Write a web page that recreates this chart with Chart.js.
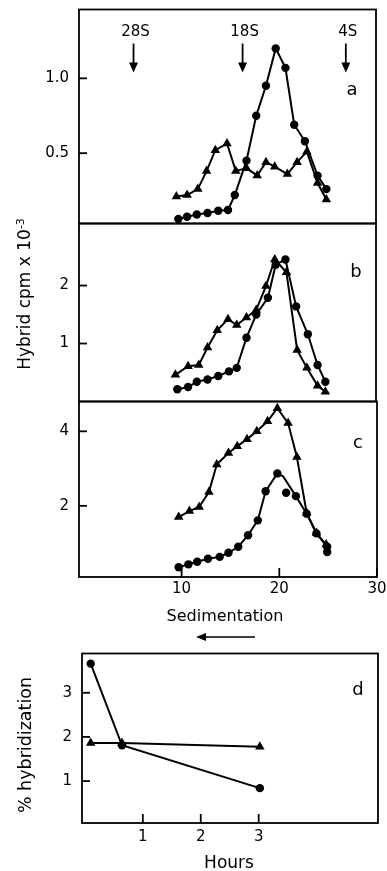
<!DOCTYPE html>
<html>
<head>
<meta charset="utf-8">
<script src="https://cdn.jsdelivr.net/npm/chart.js@4.4.0/dist/chart.umd.min.js"></script>
<style>
  body { margin: 0; background: #fff; width: 387px; height: 871px; position: relative; overflow: hidden; font-family: "DejaVu Sans", sans-serif; color: #000; }
  canvas { position: absolute; left: 0; }
  .lbl { position: absolute; white-space: nowrap; transform: translate(-50%, -50%); }
  .rot { transform: translate(-50%, -50%) rotate(-90deg); }
  sup { font-size: 11px; }
</style>
</head>
<body>
<canvas id="chartA" width="387" height="225" style="top:4px"></canvas>
<canvas id="chartB" width="387" height="189" style="top:218px"></canvas>
<canvas id="chartC" width="387" height="243" style="top:396px"></canvas>
<canvas id="chartD" width="387" height="221" style="top:648px"></canvas>

<div class="lbl rot" style="left:24px;top:294px;font-size:17px">Hybrid cpm x 10<sup>-3</sup></div>
<div class="lbl" style="left:225px;top:615px;font-size:16px">Sedimentation</div>
<svg style="position:absolute;left:195px;top:631px" width="64" height="12">
  <line x1="8" y1="6" x2="60" y2="6" stroke="#000" stroke-width="1.6"/>
  <path d="M1 6 L11 2 L11 10 Z" fill="#000"/>
</svg>
<div class="lbl rot" style="left:25px;top:745px;font-size:17.5px">% hybridization</div>
<div class="lbl" style="left:229px;top:862px;font-size:17px">Hours</div>

<script>
// sedimentation fraction positions and hybrid cpm x 10^-3, panel a
const aCircleX = [9.7, 10.6, 11.6, 12.7, 13.8, 14.8, 15.5, 16.7, 17.7, 18.7, 19.7, 20.7, 21.6, 22.7, 24.0, 24.9];
const aCircleY = [0.06, 0.075, 0.09, 0.10, 0.115, 0.12, 0.22, 0.45, 0.75, 0.95, 1.20, 1.07, 0.69, 0.58, 0.35, 0.26];
const aTriX = [9.5, 10.6, 11.7, 12.6, 13.5, 14.7, 15.6, 16.7, 17.8, 18.7, 19.6, 20.9, 21.9, 22.9, 24.0, 24.9];
const aTriY = [0.21, 0.22, 0.26, 0.38, 0.52, 0.565, 0.38, 0.40, 0.35, 0.44, 0.41, 0.36, 0.44, 0.51, 0.30, 0.19];

// panel b
const bCircleX = [9.6, 10.7, 11.6, 12.7, 13.8, 14.9, 15.7, 16.7, 17.7, 18.9, 19.7, 20.7, 21.8, 23.0, 24.0, 24.8];
const bCircleY = [0.21, 0.25, 0.34, 0.38, 0.44, 0.52, 0.58, 1.10, 1.50, 1.79, 2.36, 2.45, 1.64, 1.16, 0.63, 0.34];
const bTriX = [9.4, 10.7, 11.8, 12.7, 13.7, 14.8, 15.7, 16.7, 17.7, 18.7, 19.6, 20.8, 21.9, 22.9, 24.0, 24.8];
const bTriY = [0.46, 0.61, 0.63, 0.93, 1.23, 1.42, 1.32, 1.45, 1.58, 1.99, 2.45, 2.23, 0.89, 0.58, 0.27, 0.17];

// panel c (index 11 of the circle line is a bend with no marker)
const cTriX = [9.7, 10.8, 11.8, 12.8, 13.6, 14.8, 15.7, 16.7, 17.7, 18.8, 19.8, 20.9, 21.8, 22.8, 23.8, 24.8];
const cTriY = [1.70, 1.86, 1.97, 2.37, 3.11, 3.42, 3.60, 3.79, 4.0, 4.27, 4.62, 4.22, 3.31, 1.81, 1.27, 0.96];
const cCircleX = [9.7, 10.7, 11.6, 12.7, 13.9, 14.8, 15.8, 16.8, 17.8, 18.6, 19.8, 20.4, 21.7, 22.8, 23.8, 24.9, 24.9];
const cCircleY = [0.35, 0.43, 0.50, 0.58, 0.63, 0.74, 0.90, 1.21, 1.61, 2.39, 2.87, 2.79, 2.26, 1.79, 1.26, 0.90, 0.76];
const cStrayX = [20.7];
const cStrayY = [2.35];

// panel d: % hybridization vs hours
const dCircleX = [0.1, 0.64, 3.02];
const dCircleY = [3.66, 1.81, 0.84];
const dTriX = [0.1, 0.64, 3.02];
const dTriY = [1.86, 1.86, 1.78];

// sedimentation markers
const markerLabels = ['28S', '18S', '4S'];
const markerPos = [5.1, 16.3, 26.9];

// tick values
const aTicks = [0.5, 1.0];
const bTicks = [1, 2];
const cTicks = [2, 4];
const sedTicks = [10, 20, 30];
const dTicks = [1, 2, 3];
const hourTicks = [1, 2, 3];

const FONT = '"DejaVu Sans", sans-serif';

function pts(xs, ys) {
    return xs.map((x, i) => ({ x: x, y: ys[i] }));
}

function series(xs, ys, style, extra) {
    return Object.assign({
        data: pts(xs, ys),
        borderColor: '#000',
        backgroundColor: '#000',
        borderWidth: 2,
        pointStyle: style,
        pointRadius: style === 'triangle' ? 5.5 : 4.2,
        pointBorderWidth: 0,
        tension: 0,
        clip: false
    }, extra || {});
}

// box round the plot area, inward ticks, panel letter, and the 28S/18S/4S arrows
const framePlugin = {
    id: 'frame',
    afterDraw(chart, args, opts) {
        const ctx = chart.ctx;
        const a = chart.chartArea;
        ctx.save();
        ctx.strokeStyle = '#000';
        ctx.lineWidth = 1.8;
        ctx.strokeRect(a.left, a.top, a.right - a.left, a.bottom - a.top);

        // inward tick marks
        const ys = chart.scales.y;
        ys.ticks.forEach(t => {
            const py = ys.getPixelForValue(t.value);
            ctx.beginPath();
            ctx.moveTo(a.left, py);
            ctx.lineTo(a.left + 8, py);
            ctx.stroke();
        });
        const xs = chart.scales.x;
        if (xs.options.display) {
            xs.ticks.forEach(t => {
                const px = xs.getPixelForValue(t.value);
                ctx.beginPath();
                ctx.moveTo(px, a.bottom);
                ctx.lineTo(px, a.bottom - 9);
                ctx.stroke();
            });
        }

        ctx.fillStyle = '#000';
        ctx.textAlign = 'center';
        ctx.textBaseline = 'middle';
        if (opts.letter) {
            ctx.font = '18px ' + FONT;
            ctx.fillText(opts.letter, a.right - opts.letterDx, a.top + opts.letterDy);
        }
        if (opts.markers) {
            ctx.font = '15px ' + FONT;
            markerLabels.forEach((t, i) => {
                const px = xs.getPixelForValue(markerPos[i]);
                ctx.fillText(t, px + 2, a.top + 23);
                ctx.beginPath();
                ctx.moveTo(px, a.top + 34);
                ctx.lineTo(px, a.top + 55);
                ctx.stroke();
                ctx.beginPath();
                ctx.moveTo(px - 4.5, a.top + 53);
                ctx.lineTo(px + 4.5, a.top + 53);
                ctx.lineTo(px, a.top + 63);
                ctx.closePath();
                ctx.fill();
            });
        }
        ctx.restore();
    }
};

function fixedTicks(values) {
    return function (scale) {
        scale.ticks = values.map(v => ({ value: v }));
    };
}

function makePanel(id, datasets, cfg) {
    const ctx = document.getElementById(id).getContext('2d');
    return new Chart(ctx, {
        type: 'line',
        data: { datasets: datasets },
        options: {
            responsive: false,
            animation: false,
            layout: { padding: { left: 0, right: cfg.padRight, top: 2, bottom: cfg.padBottom } },
            plugins: {
                legend: { display: false },
                tooltip: { enabled: false },
                frame: cfg.frame
            },
            scales: {
                x: {
                    type: 'linear',
                    min: cfg.xMin,
                    max: cfg.xMax,
                    display: cfg.xShow,
                    afterBuildTicks: fixedTicks(cfg.xTicks),
                    afterFit(scale) {
                        scale.height = cfg.xHeight;
                        scale.paddingLeft = 0;
                        scale.paddingRight = 0;
                    },
                    border: { display: false },
                    grid: { display: false, drawTicks: false, tickLength: 0 },
                    ticks: { color: '#000', font: { family: FONT, size: 15 }, padding: cfg.xPad, maxRotation: 0, autoSkip: false }
                },
                y: {
                    type: 'linear',
                    min: cfg.yMin,
                    max: cfg.yMax,
                    afterBuildTicks: fixedTicks(cfg.yTicks),
                    afterFit(scale) {
                        scale.width = cfg.yWidth;
                        scale.paddingTop = 0;
                        scale.paddingBottom = 0;
                    },
                    border: { display: false },
                    grid: { display: false, drawTicks: false, tickLength: 0 },
                    ticks: {
                        color: '#000',
                        font: { family: FONT, size: 15 },
                        padding: 10,
                        callback: cfg.yFormat
                    }
                }
            }
        },
        plugins: [framePlugin]
    });
}

document.addEventListener('DOMContentLoaded', function () {
    try {
        makePanel('chartA', [
            series(aCircleX, aCircleY, 'circle'),
            series(aTriX, aTriY, 'triangle')
        ], {
            xMin: -0.5, xMax: 30, xShow: false, xTicks: sedTicks, xHeight: 0, xPad: 0,
            yMin: 0.03, yMax: 1.46, yTicks: aTicks, yWidth: 79,
            yFormat: v => v.toFixed(1),
            padRight: 11, padBottom: 2,
            frame: { letter: 'a', letterDx: 24, letterDy: 81, markers: true }
        });

        makePanel('chartB', [
            series(bCircleX, bCircleY, 'circle'),
            series(bTriX, bTriY, 'triangle')
        ], {
            xMin: -0.5, xMax: 30, xShow: false, xTicks: sedTicks, xHeight: 0, xPad: 0,
            yMin: 0, yMax: 3.07, yTicks: bTicks, yWidth: 79,
            yFormat: v => String(v),
            padRight: 11, padBottom: 2,
            frame: { letter: 'b', letterDx: 20, letterDy: 49 }
        });

        makePanel('chartC', [
            series(cCircleX, cCircleY, 'circle', {
                pointRadius: cCircleX.map((x, i) => (i === 11 ? 0 : 4.2))
            }),
            series(cStrayX, cStrayY, 'circle', { showLine: false }),
            series(cTriX, cTriY, 'triangle')
        ], {
            xMin: -0.5, xMax: 30, xShow: true, xTicks: sedTicks, xHeight: 62, xPad: 3,
            yMin: 0.09, yMax: 4.8, yTicks: cTicks, yWidth: 79,
            yFormat: v => String(v),
            padRight: 10, padBottom: 0,
            frame: { letter: 'c', letterDx: 19, letterDy: 42 }
        });

        makePanel('chartD', [
            series(dCircleX, dCircleY, 'circle'),
            series(dTriX, dTriY, 'triangle')
        ], {
            xMin: -0.05, xMax: 5.06, xShow: true, xTicks: hourTicks, xHeight: 46, xPad: 5,
            yMin: 0.05, yMax: 3.89, yTicks: dTicks, yWidth: 82,
            yFormat: v => String(v),
            padRight: 9, padBottom: 0,
            frame: { letter: 'd', letterDx: 20, letterDy: 37 }
        });
    } catch (error) {
        console.error('Error initializing charts:', error);
    }
});
</script>
</body>
</html>
